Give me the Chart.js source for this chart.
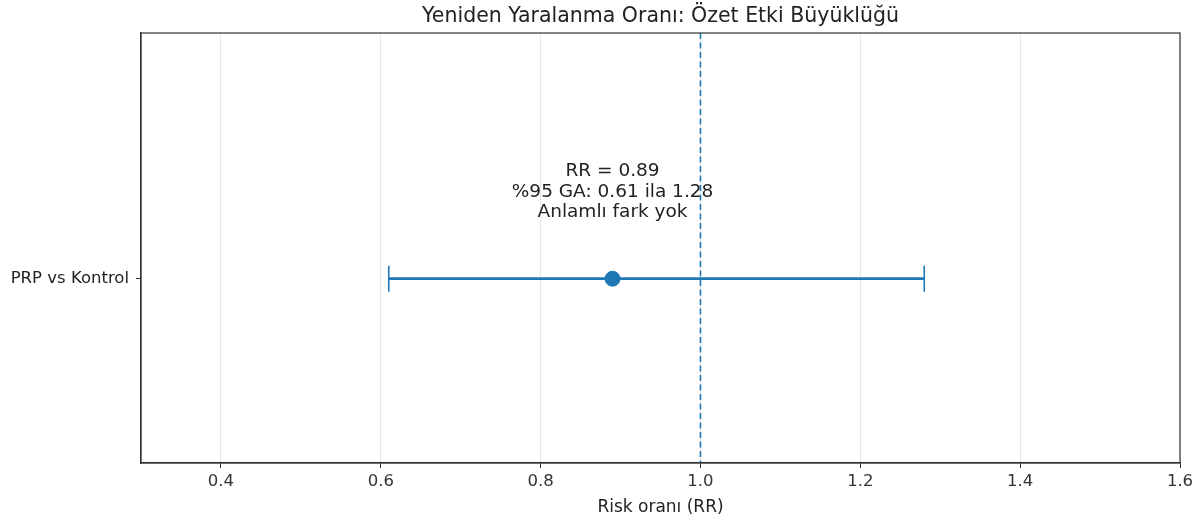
<!DOCTYPE html>
<html><head><meta charset="utf-8">
<script src="https://cdn.jsdelivr.net/npm/chart.js@4.4.1/dist/chart.umd.min.js"></script>
<style>html,body{margin:0;padding:0;background:#fff}#wrap{width:1201px;height:523px}</style>
</head><body><div id="wrap"><canvas id="c" width="1201" height="523"></canvas></div>
<script>
const categories = ["PRP vs Kontrol"];
const estimates = [0.89];
const lowerCI = [0.61];
const upperCI = [1.28];
const xTicks = [0.4, 0.6, 0.8, 1.0, 1.2, 1.4, 1.6];
const annotationLines = ["RR = 0.89", "%95 GA: 0.61 ila 1.28", "Anlamlı fark yok"];
const refValue = 1.0;
const chartTitle = 'Yeniden Yaralanma Oranı: Özet Etki Büyüklüğü';

const BLUE = '#1f77b4';
const FONT = "'DejaVu Sans', sans-serif";

const datasets = [];
categories.forEach((c, i) => {
  datasets.push({
    type: 'line', label: c + ' CI',
    data: [{x: lowerCI[i], y: i}, {x: upperCI[i], y: i}],
    borderColor: BLUE, borderWidth: 2.8,
    pointStyle: 'line', rotation: 90, pointRadius: 13, pointBorderWidth: 1.6,
    pointBorderColor: BLUE, fill: false, order: 2
  });
  datasets.push({
    type: 'scatter', label: c,
    data: [{x: estimates[i], y: i}],
    backgroundColor: BLUE, borderColor: BLUE, pointRadius: 7.5, order: 1
  });
});

const extras = {
  id: 'extras',
  beforeDatasetsDraw(chart) {
    const {ctx, chartArea, scales} = chart;
    const x = scales.x.getPixelForValue(refValue);
    ctx.save();
    ctx.strokeStyle = BLUE; ctx.lineWidth = 1.6; ctx.setLineDash([6, 3.5]);
    ctx.beginPath(); ctx.moveTo(x, chartArea.top); ctx.lineTo(x, chartArea.bottom); ctx.stroke();
    ctx.restore();
  },
  afterDatasetsDraw(chart) {
    const {ctx, chartArea, scales} = chart;
    ctx.save();
    ctx.strokeStyle = '#333'; ctx.lineWidth = 1.2;
    ctx.strokeRect(chartArea.left, chartArea.top, chartArea.right - chartArea.left, chartArea.bottom - chartArea.top);
    ctx.fillStyle = '#222'; ctx.textAlign = 'center';
    ctx.font = "20.5px " + FONT; ctx.textBaseline = 'alphabetic';
    ctx.fillText(chartTitle, (chartArea.left + chartArea.right) / 2, 22);
    ctx.font = "18.5px " + FONT; ctx.textBaseline = 'middle';
    const cx = scales.x.getPixelForValue(estimates[0]);
    const cy = scales.y.getPixelForValue(0.354);
    const lh = 20.5;
    annotationLines.forEach((t, k) => ctx.fillText(t, cx, cy + (k - 1) * lh));
    ctx.restore();
  }
};

new Chart(document.getElementById('c'), {
  data: {datasets},
  options: {
    responsive: false, animation: false,
    layout: {padding: {top: 33, right: 21, bottom: 0, left: 0}},
    plugins: {
      legend: {display: false}, tooltip: {enabled: false}, title: {display: false}
    },
    scales: {
      x: {
        type: 'linear', min: 0.3, max: 1.6,
        afterBuildTicks(s) { s.ticks = xTicks.map(v => ({value: v})); },
        afterFit(s) { s.height = 60; },
        ticks: {color: '#333', font: {family: FONT, size: 16.5}, padding: 4,
          callback: v => v.toFixed(1)},
        grid: {color: 'rgba(0,0,0,0.09)', tickColor: '#333', tickLength: 5, lineWidth: 1},
        border: {color: '#333', width: 1.2},
        title: {display: true, text: 'Risk oranı (RR)', color: '#222',
          font: {family: FONT, size: 17}, padding: {top: 2, bottom: 5}}
      },
      y: {
        type: 'linear', min: -0.75, max: 1.0,
        afterBuildTicks(s) { s.ticks = categories.map((c, i) => ({value: i})); },
        afterFit(s) { s.width = 141; },
        ticks: {color: '#222', font: {family: FONT, size: 16.5}, padding: 7,
          callback: (v) => categories[v] !== undefined ? categories[v] : ''},
        grid: {drawOnChartArea: false, tickColor: '#333', tickLength: 5},
        border: {color: '#333', width: 1.2}
      }
    }
  },
  plugins: [extras]
});
</script></body></html>
